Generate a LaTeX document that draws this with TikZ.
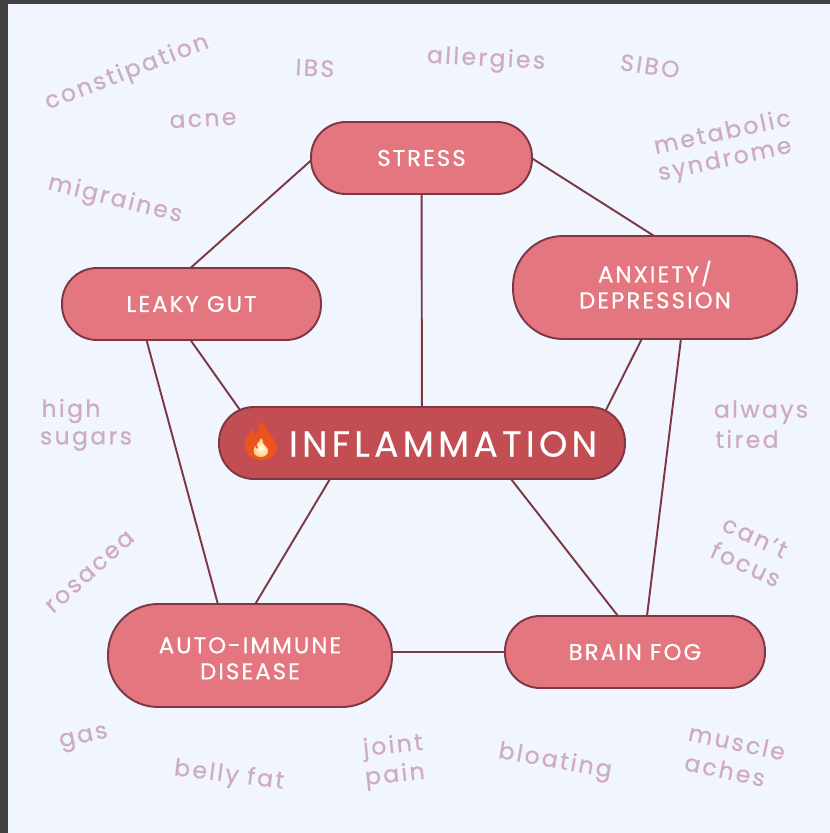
\documentclass[tikz,border=0pt]{standalone}
\usepackage{fontspec}
\setmainfont{Poppins}
\newfontfamily\emojifont{Noto Emoji}
\usetikzlibrary{calc}
\definecolor{pagebg}{RGB}{240,245,254}
\definecolor{framegray}{RGB}{66,66,68}
\definecolor{pillfill}{RGB}{228,118,128}
\definecolor{pilldark}{RGB}{194,78,84}
\definecolor{pillline}{RGB}{126,56,68}
\definecolor{symptomtext}{RGB}{207,172,187}
\definecolor{flameorange}{RGB}{236,84,30}
\definecolor{flameyellow}{RGB}{255,240,150}

\begin{document}
\begin{tikzpicture}[
    x=0.02cm, y=-0.02cm,
    pill/.style={draw=pillline, line width=1.1pt, fill=pillfill, text=white, align=center,
        font=\fontsize{13}{14.8}\selectfont\addfontfeatures{LetterSpace=9,FakeBold=0.5}, inner sep=0pt},
    pillshort/.style={pill, rounded corners=0.7cm},
    pilltall/.style={pill, rounded corners=1cm},
    link/.style={draw=pillline, line width=1.1pt},
    symptom/.style={text=symptomtext, font=\fontsize{13.4}{16}\selectfont\addfontfeatures{LetterSpace=10,FakeBold=0.5}, inner sep=0pt},
]
    \useasboundingbox (0,0) rectangle (830,833);
    \fill[framegray] (0,0) rectangle (830,833);
    \fill[pagebg] (8,4) rectangle (830,833);

    % main boxes
    \coordinate (stressc) at (421.5,158);
    \coordinate (leakyc) at (191.5,304);
    \coordinate (anxietyc) at (655,287.5);
    \coordinate (inflamc) at (422,443);
    \coordinate (autoc) at (250,655.5);
    \coordinate (brainc) at (635,652);

    % links, under the boxes
    \draw[link] ($(stressc)+(-110,2)$) -- ($(leakyc)+(-1,-36)$);
    \draw[link] ($(stressc)+(110,0)$) -- ($(anxietyc)+(0,-51)$);
    \draw[link] (stressc) -- (inflamc);
    \draw[link] ($(leakyc)+(-1,36)$) -- ($(inflamc)+(-182,-33)$);
    \draw[link] ($(leakyc)+(-45,36)$) -- ($(autoc)+(-32,-51)$);
    \draw[link] ($(anxietyc)+(-13,51)$) -- ($(inflamc)+(184,-33)$);
    \draw[link] ($(anxietyc)+(26,51)$) -- ($(brainc)+(12,-36)$);
    \draw[link] ($(inflamc)+(-92,36)$) -- ($(autoc)+(5,-51)$);
    \draw[link] ($(inflamc)+(89,36)$) -- ($(brainc)+(-17,-36)$);
    \draw[link] ($(autoc)+(0,-3.5)$) -- (brainc);

    \node[pillshort, minimum width=4.42cm, minimum height=1.44cm] (stress) at (stressc) {STRESS};
    \node[pillshort, minimum width=5.18cm, minimum height=1.44cm] (leaky) at (leakyc) {LEAKY GUT};
    \node[pilltall, minimum width=5.68cm, minimum height=2.06cm] (anxiety) at (anxietyc) {ANXIETY/\\DEPRESSION\rule[-3.4pt]{0pt}{0pt}};
    \node[pillshort, minimum width=8.12cm, minimum height=1.44cm, fill=pilldark] (inflam) at (inflamc) {};
    \node[pilltall, minimum width=5.68cm, minimum height=2.06cm] (auto) at (autoc) {\rule{0pt}{12.4pt}AUTO-IMMUNE\\DISEASE};
    \node[pillshort, minimum width=5.2cm, minimum height=1.44cm] (brain) at (brainc) {BRAIN FOG};
    \node[text=white, font=\fontsize{20.5}{22}\selectfont\addfontfeatures{LetterSpace=12,FakeBold=0.5}, inner sep=0pt] (inflamtext) at (443,444) {INFLAMMATION};

    % the flame
    \fill[flameorange] (261,460) .. controls (250,460) and (245,452) .. (245,445)
        .. controls (245,438) and (249,435) .. (251,429) .. controls (253,431) and (254,433) .. (255,435)
        .. controls (258,431) and (261,428) .. (261,423) .. controls (265,430) and (272,434) .. (274,440)
        .. controls (278,446) and (277,452) .. (274,455) .. controls (271,459) and (266,460) .. (261,460) -- cycle;
    \shade[inner color=white, outer color=flameyellow!60!orange] (261,458) .. controls (253,458) and (251,451) .. (255,446)
        .. controls (258,443) and (260,441) .. (261,438) .. controls (263,442) and (271,447) .. (270,452)
        .. controls (269,456) and (265,458) .. (261,458) -- cycle;
    \node[text=flameorange, font=\fontsize{20}{22}\selectfont\emojifont, inner sep=0pt] (flame) at (261,441) {🔥};

    % symptoms round the edge
    \node[symptom, rotate=21] (constipation) at (127,73) {constipation};
    \node[symptom, rotate=3] (acne) at (203,120) {acne};
    \node[symptom, rotate=-3] (ibs) at (315,68) {IBS};
    \node[symptom, rotate=-3] (allergies) at (486,60) {allergies};
    \node[symptom, rotate=-8] (sibo) at (650,66) {SIBO};
    \node[symptom, rotate=12] (metabolic) at (722,131) {metabolic};
    \node[symptom, rotate=12] (syndrome) at (725,161) {syndrome};
    \node[symptom, rotate=-14] (migraines) at (115,200) {migraines};
    \node[symptom] (high) at (71,411) {high};
    \node[symptom] (sugars) at (86,441) {sugars};
    \node[symptom] (always) at (761,412) {always};
    \node[symptom] (tired) at (747,439) {tired};
    \node[symptom, rotate=-25] (cant) at (755,537) {can't};
    \node[symptom, rotate=-25] (focus) at (746,564) {focus};
    \node[symptom, rotate=42] (rosacea) at (90,572) {rosacea};
    \node[symptom, rotate=12] (gas) at (84,739) {gas};
    \node[symptom, rotate=-7] (bellyfat) at (229,776) {belly fat};
    \node[symptom, rotate=6] (joint) at (393,747) {joint};
    \node[symptom, rotate=6] (pain) at (395,776) {pain};
    \node[symptom, rotate=-10] (bloating) at (555,762) {bloating};
    \node[symptom, rotate=-12] (muscle) at (737,742) {muscle};
    \node[symptom, rotate=-12] (aches) at (725,770) {aches};
\end{tikzpicture}
\end{document}
